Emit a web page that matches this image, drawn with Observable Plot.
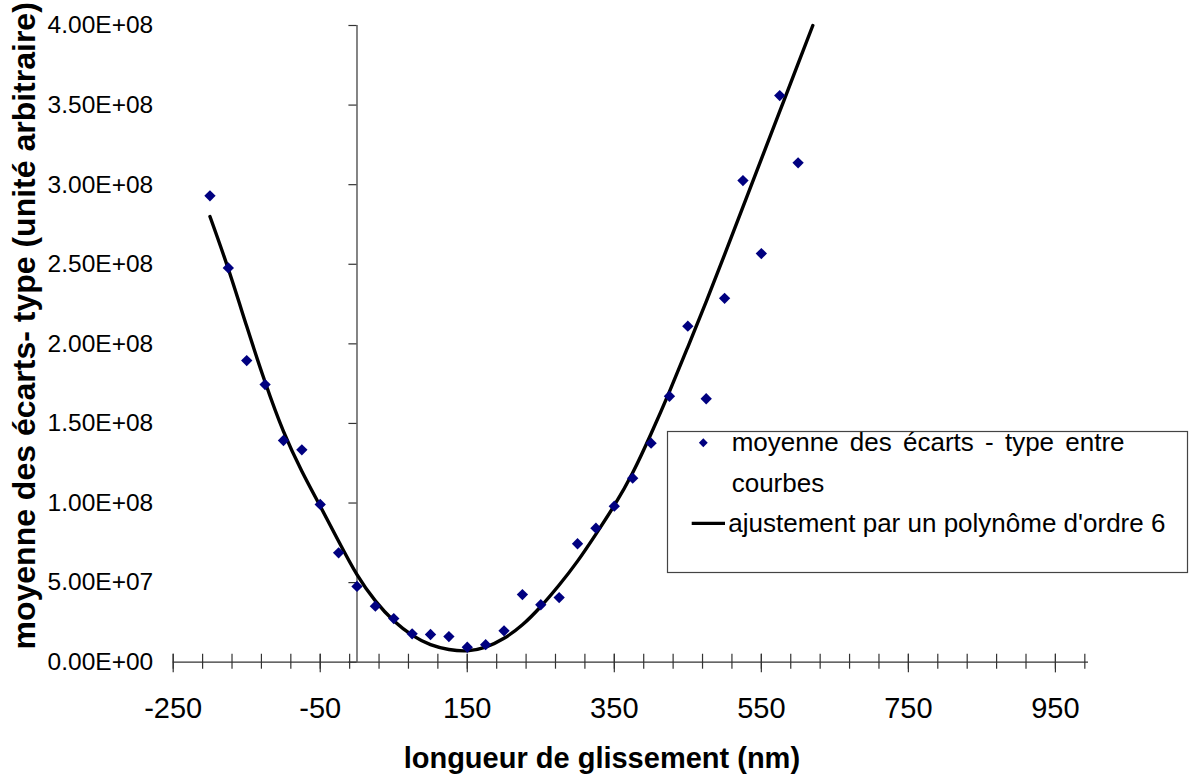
<!DOCTYPE html>
<html><head><meta charset="utf-8">
<script src="https://cdn.jsdelivr.net/npm/d3@7"></script>
<script src="https://cdn.jsdelivr.net/npm/@observablehq/plot@0.6"></script>
<style>
html,body{margin:0;padding:0;background:#fff;}
body{font-family:"Liberation Sans",Arial,sans-serif;}
</style>
</head><body><div id="chart"></div>
<script>
// Glide length (nm) of each measured point
const pointX = [-200,-175,-150,-125,-100,-75,-50,-25,0,25,50,75,100,125,150,175,200,225,250,275,300,325,350,375,400,425,450,475,500,525,550,575,600];
// Mean of standard deviations (arbitrary unit), in units of 1e8
const pointY = [2.93,2.477,1.895,1.744,1.393,1.334,0.991,0.687,0.476,0.352,0.274,0.178,0.174,0.161,0.094,0.110,0.197,0.425,0.361,0.406,0.744,0.842,0.980,1.156,1.376,1.671,2.111,1.655,2.286,3.026,2.567,3.560,3.137];
// 6th order polynomial trend line (units of 1e8)
const fitX = [-200,-175,-150,-125,-100,-75,-50,-25,0,25,50,75,100,125,150,175,200,225,250,275,300,325,350,375,400,425,450,475,500,525,550,575,600,620];
const fitY = [2.80,2.47,2.11,1.76,1.45,1.20,0.98,0.76,0.55,0.385,0.26,0.17,0.11,0.08,0.072,0.095,0.15,0.235,0.35,0.485,0.635,0.805,0.985,1.19,1.435,1.70,1.98,2.265,2.56,2.86,3.16,3.46,3.76,4.00];

const xLabelTicks = [-250,-50,150,350,550,750,950];
const xMinorTicks = d3.range(-250, 991, 40);
const yTicks = [0,5e7,1e8,1.5e8,2e8,2.5e8,3e8,3.5e8,4e8];
const yTickLabels = ["0.00E+00","5.00E+07","1.00E+08","1.50E+08","2.00E+08","2.50E+08","3.00E+08","3.50E+08","4.00E+08"];

const xTitle = "longueur de glissement (nm)";
const yTitle = "moyenne des écarts- type (unité arbitraire)";
const legendPoints = "moyenne des écarts - type entre";
const legendPoints2 = "courbes";
const legendFit = "ajustement par un polynôme d'ordre 6";

const points = pointX.map((x, i) => ({x, y: pointY[i] * 1e8}));
const fit = fitX.map((x, i) => ({x, y: fitY[i] * 1e8}));

const FONT = "Liberation Sans, Arial, sans-serif";
const axisColor = "#333";

const chart = Plot.plot({
  width: 1190, height: 779,
  marginLeft: 172.7, marginRight: 102, marginTop: 25, marginBottom: 117.3,
  style: {fontFamily: FONT, background: "white", color: "black", overflow: "visible"},
  x: {domain: [-250, 995]},
  y: {domain: [0, 4e8]},
  marks: [
    Plot.axisY(yTicks, {tickSize: 0, tickPadding: 20, fontSize: 24.5, label: null,
      tickFormat: d => yTickLabels[yTicks.indexOf(d)]}),
    Plot.axisX(xLabelTicks, {tickSize: 0, tickPadding: 35, fontSize: 29, label: null,
      tickFormat: d => String(d)}),
    Plot.ruleX([0], {y1: 0, y2: 4e8, stroke: axisColor, strokeWidth: 1.2}),
    Plot.ruleY(yTicks, {y: d => d, x1: -11, x2: 0, stroke: axisColor, strokeWidth: 1.2}),
    Plot.ruleY([0], {x1: -250, x2: 995, stroke: axisColor, strokeWidth: 1.2}),
    Plot.ruleX(xMinorTicks, {x: d => d, y1: -4.4e6, y2: 5e6, stroke: axisColor, strokeWidth: 1.2}),
    Plot.ruleX(xLabelTicks, {x: d => d, y1: -6.7e6, y2: 5e6, stroke: axisColor, strokeWidth: 1.2}),
    Plot.line(fit, {x: "x", y: "y", stroke: "black", strokeWidth: 3.4, curve: "natural"}),
    Plot.dot(points, {x: "x", y: "y", symbol: "diamond2", r: 5.1, fill: "#000080", stroke: "none"}),
    Plot.text([xTitle], {frameAnchor: "bottom", dy: 106, dx: -29, fontSize: 29, fontWeight: "bold", fill: "black"}),
    Plot.text([yTitle], {frameAnchor: "left", textAnchor: "middle", rotate: -90, dx: -148.7, dy: -18, fontSize: 32, fontWeight: "bold", fill: "black"})
  ]
});
document.getElementById("chart").appendChild(chart);

// Legend (drawn in pixel space inside the chart)
const svg = d3.select(chart);
const lg = svg.append("g").attr("font-family", FONT).attr("font-size", 26).attr("fill", "black").attr("text-anchor", "start");
lg.append("rect").attr("x", 667.5).attr("y", 431.5).attr("width", 520).attr("height", 141)
  .attr("fill", "white").attr("stroke", "#444").attr("stroke-width", 1.2);
lg.append("path").attr("d", d3.symbol(d3.symbolDiamond2, 50)()).attr("transform", "translate(703.3,442.7)").attr("fill", "#000080");
lg.append("text").attr("x", 731.7).attr("y", 442).attr("dy", "0.35em").style("word-spacing", "4px").text(legendPoints);
lg.append("text").attr("x", 731.7).attr("y", 483).attr("dy", "0.35em").text(legendPoints2);
lg.append("line").attr("x1", 691.7).attr("x2", 725).attr("y1", 523.3).attr("y2", 523.3).attr("stroke", "black").attr("stroke-width", 3.2);
lg.append("text").attr("x", 728.3).attr("y", 523).attr("dy", "0.35em").text(legendFit);
</script>
</body></html>
